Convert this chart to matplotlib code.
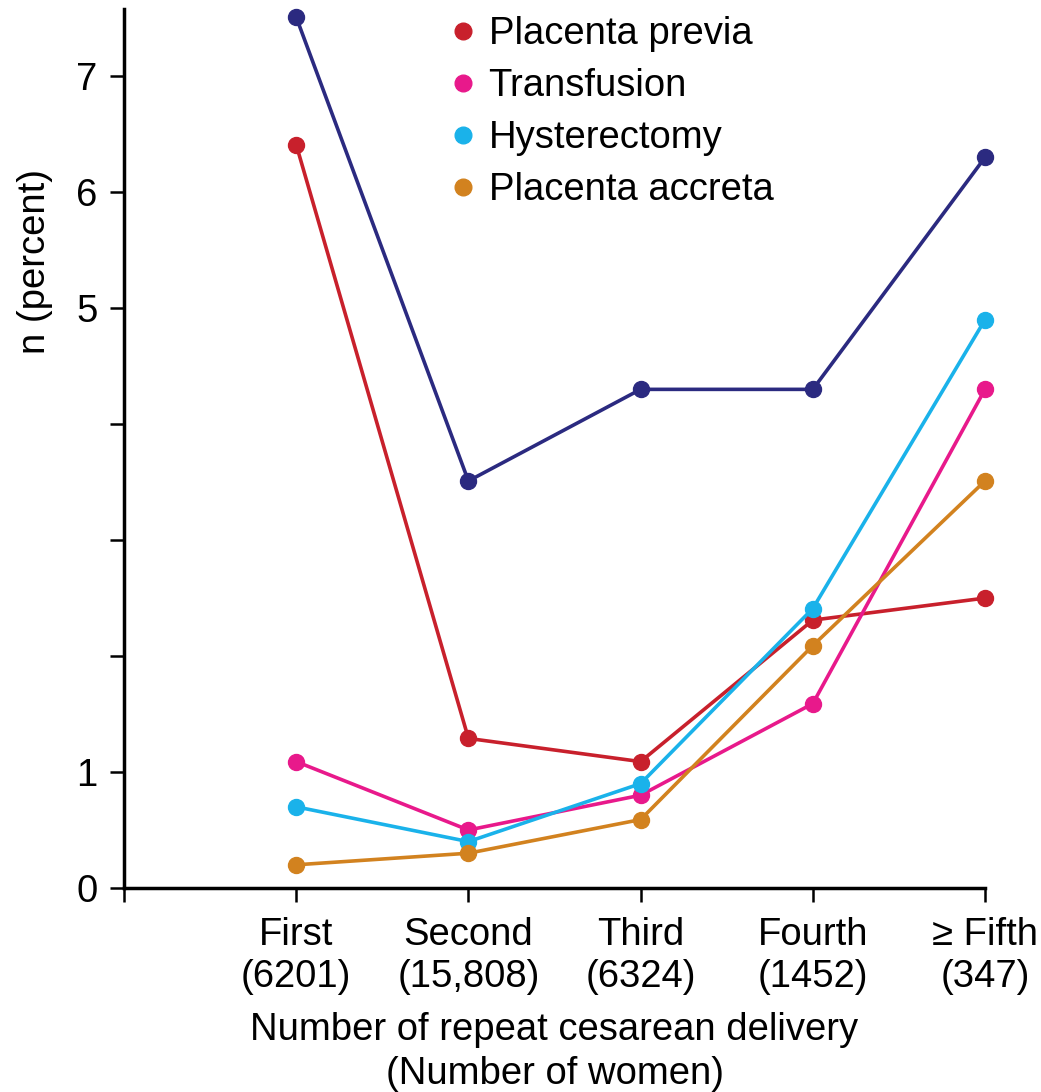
import matplotlib.pyplot as plt
from matplotlib.lines import Line2D

plt.rcParams['font.family'] = ['Liberation Sans', 'DejaVu Sans']

# data
categories = ['First\n(6201)', 'Second\n(15,808)', 'Third\n(6324)', 'Fourth\n(1452)', '\u2265 Fifth\n(347)']
any_complication = [7.51, 3.51, 4.30, 4.30, 6.30]
placenta_previa = [6.41, 1.29, 1.09, 2.31, 2.50]
transfusion = [1.09, 0.50, 0.80, 1.59, 4.30]
hysterectomy = [0.70, 0.40, 0.90, 2.41, 4.90]
placenta_accreta = [0.20, 0.30, 0.59, 2.09, 3.51]

series = [
    (None, any_complication, '#2b2a80'),
    ('Placenta previa', placenta_previa, '#c8202c'),
    ('Transfusion', transfusion, '#e8198b'),
    ('Hysterectomy', hysterectomy, '#1ab2ea'),
    ('Placenta accreta', placenta_accreta, '#d2821f'),
]

W, H = 1041, 1092
fig = plt.figure(figsize=(W / 100, H / 100), dpi=100)
ax = fig.add_axes([124 / W, (H - 888) / H, (985 - 124) / W, (888 - 9) / H])

x = list(range(1, len(categories) + 1))
for name, vals, col in series:
    ax.plot(x, vals, color=col, lw=2.6, marker='o', ms=11.5, clip_on=False, zorder=3)

ax.set_xlim(0, 5)
ax.set_ylim(0, 7.58)
ax.set_xticks([0] + x)
ax.set_xticklabels([''] + categories, fontsize=27.5, linespacing=1.22)
ax.set_yticks(range(8))
ax.set_yticklabels(['0', '1', '', '', '', '5', '6', '7'], fontsize=27.5)

for s in ['top', 'right']:
    ax.spines[s].set_visible(False)
for s in ['left', 'bottom']:
    ax.spines[s].set_linewidth(2.5)
ax.tick_params(axis='both', length=10, width=1.8, direction='out')
ax.tick_params(axis='x', pad=11)
ax.tick_params(axis='y', pad=9)

ax.set_xlabel('Number of repeat cesarean delivery\n(Number of women)', fontsize=27.5,
              linespacing=1.28, labelpad=12)

fig.text(35 / W, 1 - 262 / H, 'n (percent)', rotation=90, fontsize=27.5,
         ha='center', va='center')

handles = [Line2D([], [], color=col, marker='o', ls='none', ms=12)
           for name, vals, col in series if name]
labels = [name for name, vals, col in series if name]
ax.legend(handles, labels, loc='upper left', bbox_to_anchor=(432 / W, 1 + 3 / H),
          bbox_transform=fig.transFigure, frameon=False, fontsize=27.5,
          handlelength=0.6, handletextpad=0.38, labelspacing=0.42, borderpad=0)

fig.savefig('out.png', dpi=100)
